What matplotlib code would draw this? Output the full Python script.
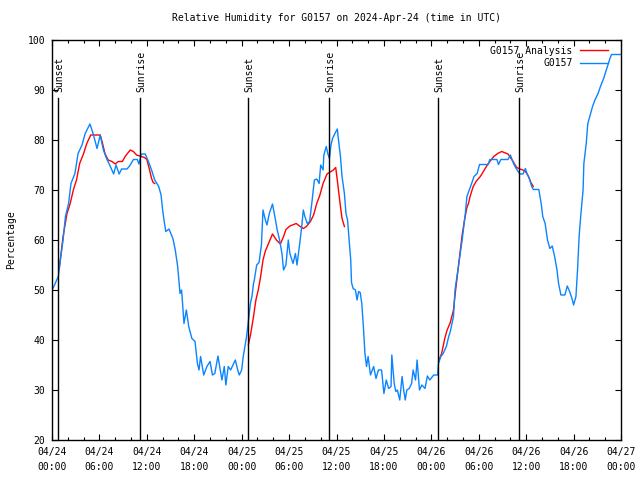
import matplotlib
matplotlib.use("Agg")
import matplotlib.pyplot as plt
from matplotlib.ticker import MultipleLocator

plt.rcParams['font.family'] = ['DejaVu Sans Mono']
plt.rcParams['font.size'] = 7

# hours since 2024-04-24 00:00 UTC
obs_hours = [0.0, 0.17, 0.8, 1.0, 1.4, 1.7, 2.1, 2.4, 2.9, 3.3, 3.8, 4.2, 4.8, 5.2, 5.7, 6.1,
             6.5, 6.9, 7.3, 7.8, 8.1, 8.5, 8.8, 9.5, 9.9, 10.3, 10.8, 11.0, 11.3, 11.8, 12.2,
             12.6, 13.0, 13.5, 13.8, 14.0, 14.2, 14.4, 14.8, 15.3, 15.6, 15.9, 16.2, 16.4,
             16.7, 17.0, 17.3, 17.7, 18.1, 18.4, 18.6, 18.8, 19.2, 19.6, 20.0, 20.3, 20.6,
             21.0, 21.5, 21.8, 22.0, 22.3, 22.6, 22.9, 23.2, 23.5, 23.7, 24.0, 24.2, 24.6,
             24.75, 25.0, 25.1, 25.3, 25.5, 25.6, 25.9, 26.2, 26.5, 26.7, 27.0, 27.2, 27.5,
             27.9, 28.2, 28.5, 28.8, 29.1, 29.3, 29.6, 29.9, 30.1, 30.5, 30.8, 31.0, 31.3,
             31.6, 31.8, 32.0, 32.3, 32.6, 32.9, 33.2, 33.5, 33.8, 34.0, 34.3, 34.4, 34.7,
             34.9, 35.1, 35.3, 35.5, 35.8, 36.1, 36.2, 36.5, 36.7, 37.0, 37.2, 37.4, 37.6,
             37.8, 37.9, 38.1, 38.4, 38.6, 38.8, 39.0, 39.2, 39.4, 39.6, 39.8, 40.0, 40.3,
             40.7, 41.0, 41.3, 41.7, 42.0, 42.3, 42.6, 42.9, 43.0, 43.3, 43.5, 43.7, 44.0,
             44.3, 44.5, 44.7, 44.9, 45.2, 45.5, 45.7, 46.0, 46.2, 46.5, 46.8, 47.2, 47.5,
             47.8, 48.3, 48.8, 48.9, 49.2, 49.5, 49.9, 50.2, 50.4, 50.8, 51.0, 51.3, 51.6,
             51.9, 52.1, 52.3, 52.5, 52.8, 53.1, 53.4, 53.8, 54.1, 55.2, 55.4, 56.3, 56.5,
             56.8, 57.7, 58.0, 58.4, 58.8, 59.2, 59.6, 59.9, 60.1, 60.4, 60.7, 60.9, 61.6,
             61.9, 62.1, 62.4, 62.7, 63.0, 63.3, 63.6, 63.9, 64.1, 64.4, 64.9, 65.2, 65.5,
             65.8, 66.0, 66.3, 66.5, 66.7, 66.9, 67.2, 67.3, 67.6, 67.8, 68.1, 68.4, 68.7,
             69.1, 69.4, 69.8, 70.2, 70.6, 70.8, 72.0]
obs_rh = [50, 50.5, 52.7, 55.3, 60, 64.7, 67.3, 71.3, 73.3, 77.3, 79, 81.3, 83.2, 81.3, 78.3, 81,
          78, 76.3, 75, 73.2, 75, 73.2, 74.2, 74.2, 75, 76.1, 76.1, 75.2, 77.2, 77.2, 75.7,
          74, 72, 70.7, 69, 66, 63.7, 61.7, 62.2, 60.3, 58, 54.7, 49.3, 50,
          43.3, 46, 42.7, 40.3, 39.7, 35.3, 34, 36.7, 33, 34.7, 35.7, 33, 33.3,
          36.8, 32, 34.7, 31, 34.7, 34, 35, 36, 34, 33, 34, 36.7, 40.5,
          42.4, 46, 47.3, 48.7, 51.3, 52, 55, 55.5, 59, 66, 64, 63, 65.3,
          67.2, 64.7, 62, 60, 57.3, 54, 55, 60, 57.3, 55.3, 57.3, 55, 58.7,
          62.7, 66, 64.7, 63.3, 63.7, 67.7, 72, 72.2, 71.3, 75, 74, 77, 78.7,
          77.3, 76.3, 79, 80.3, 81.3, 82.2, 80.7, 76.7, 72.7, 69.3, 65.3, 64, 60,
          56, 51.5, 50.3, 50, 48, 49.7, 49.5, 47.3, 42.7, 37.3, 34.7, 36.7, 33,
          34.7, 32.3, 34, 34, 29.3, 32, 30.3, 30.7, 37, 31.3, 29.7, 30, 28,
          32.7, 30, 28, 30, 30.3, 31.3, 34, 32, 36, 30, 31, 30.3, 32.8,
          32, 33, 33, 35.3, 36.7, 37.3, 38.7, 40.7, 41.7, 44.7, 50, 53.3, 56.7,
          60, 62.7, 65.3, 68.7, 70, 71.3, 72.7, 73.3, 75.1, 75.1, 76.1, 76.1, 75.1,
          76.1, 76.1, 77, 75.3, 74.1, 73.2, 73.2, 74.3, 73.3, 72.3, 70.7, 70.1, 70.1,
          67.3, 64.7, 63.3, 60, 58.3, 58.8, 56.7, 54, 51.3, 49, 49, 50.8, 49.7,
          48.3, 47, 48.7, 54, 60.7, 64.7, 70, 75.3, 79.3, 83.3, 85, 86.7, 88,
          89.3, 90.7, 92.3, 94.3, 96.3, 97.1, 97.1]

# analysis, three separate night/morning segments
ana1_hours = [0.9, 1.1, 1.4, 1.9, 2.3, 2.7, 3.1, 3.5, 4.0, 4.4, 4.9, 6.1, 6.4, 6.7, 7.1, 7.6,
              8.0, 8.4, 8.9, 9.3, 9.9, 10.3, 10.7, 11.3, 11.7, 12.0, 12.3, 12.6, 12.8, 13.0]
ana1_rh = [54.1, 56.7, 60.7, 65.3, 67.3, 70, 72, 75.3, 77.3, 79.3, 81, 81, 79.3, 77.3, 76, 75.7,
           75.2, 75.7, 75.7, 76.8, 78, 77.7, 77, 76.7, 76.5, 76.1, 74.3, 72.3, 71.5, 71.3]
ana2_hours = [24.85, 25.15, 25.5, 25.8, 26.1, 26.4, 26.7, 27.0, 27.4, 27.9, 28.4, 28.9, 29.3,
              29.6, 30.1, 30.9, 31.4, 31.8, 32.2, 32.7, 33.1, 33.5, 33.9, 34.3, 34.8, 35.3,
              35.6, 35.9, 36.1, 36.3, 36.5, 36.7, 37.0]
ana2_rh = [39, 41.3, 44.7, 48, 50, 52.7, 56, 57.8, 59.3, 61.2, 60, 59.2, 60.7,
           62.1, 62.8, 63.3, 62.7, 62.3, 62.7, 63.7, 65, 67.3, 69, 71.3, 73.2, 73.7,
           74, 74.5, 72, 69.3, 66.7, 64.3, 62.7]
ana3_hours = [48.9, 49.3, 49.7, 50.0, 50.4, 50.8, 51.0, 51.3, 51.6, 51.9, 52.2, 52.5, 52.7,
              52.9, 53.3, 53.7, 54.2, 54.7, 55.2, 55.9, 56.4, 56.9, 57.7, 58.3, 58.8, 59.2,
              59.6, 60.0, 60.3, 60.6, 60.9]
ana3_rh = [35.7, 37.3, 40.3, 42, 43.5, 46, 49, 53, 57, 61, 64, 66.5, 67.3,
           68.7, 70.7, 71.8, 72.7, 74, 75.3, 76.7, 77.3, 77.7, 77.2, 75.8, 74.5, 74.2,
           74, 73.5, 72.7, 71.5, 70.7]

sun_hours = [0.78, 11.15, 24.8, 35.05, 48.82, 59.1]
sun_labels = ['Sunset', 'Sunrise', 'Sunset', 'Sunrise', 'Sunset', 'Sunrise']

tick_hours = list(range(0, 73, 6))
tick_labels = ['04/24\n00:00', '04/24\n06:00', '04/24\n12:00', '04/24\n18:00',
               '04/25\n00:00', '04/25\n06:00', '04/25\n12:00', '04/25\n18:00',
               '04/26\n00:00', '04/26\n06:00', '04/26\n12:00', '04/26\n18:00',
               '04/27\n00:00']

fig = plt.figure(figsize=(6.4, 4.8), dpi=100)
ax = fig.add_axes([52 / 640, 40 / 480, 569 / 640, 400 / 480])

red = '#ff0000'
blue = '#0a84ff'
ax.plot(ana1_hours, ana1_rh, color=red, lw=1, label='G0157 Analysis')
ax.plot(ana2_hours, ana2_rh, color=red, lw=1)
ax.plot(ana3_hours, ana3_rh, color=red, lw=1)
ax.plot(obs_hours, obs_rh, color=blue, lw=1, label='G0157')

for h, lab in zip(sun_hours, sun_labels):
    ax.plot([h, h], [20, 88.3], color='black', lw=1)
    ax.text(h + 0.2, 89.6, lab, rotation=90, ha='center', va='bottom')

ax.set_xlim(0, 72)
ax.set_ylim(20, 100)
ax.set_xticks(tick_hours)
ax.set_xticklabels(tick_labels, linespacing=1.6)
ax.xaxis.set_minor_locator(MultipleLocator(2))
ax.set_yticks(range(20, 101, 10))
ax.tick_params(which='major', direction='in', length=4, width=0.8, top=True, right=True, pad=5)
ax.tick_params(which='minor', direction='in', length=2.5, width=0.8, top=True, right=True)
for s in ax.spines.values():
    s.set_linewidth(1)

ax.set_ylabel('Percentage', labelpad=8)
ax.set_title('Relative Humidity for G0157 on 2024-Apr-24 (time in UTC)', fontsize=7, pad=14)
ax.legend(loc='upper right', bbox_to_anchor=(1 - 7 / 569, 1), frameon=False,
          markerfirst=False, handlelength=2.9, borderaxespad=0.2, labelspacing=0.25,
          handletextpad=0.75)

fig.savefig('out.png', dpi=100)
